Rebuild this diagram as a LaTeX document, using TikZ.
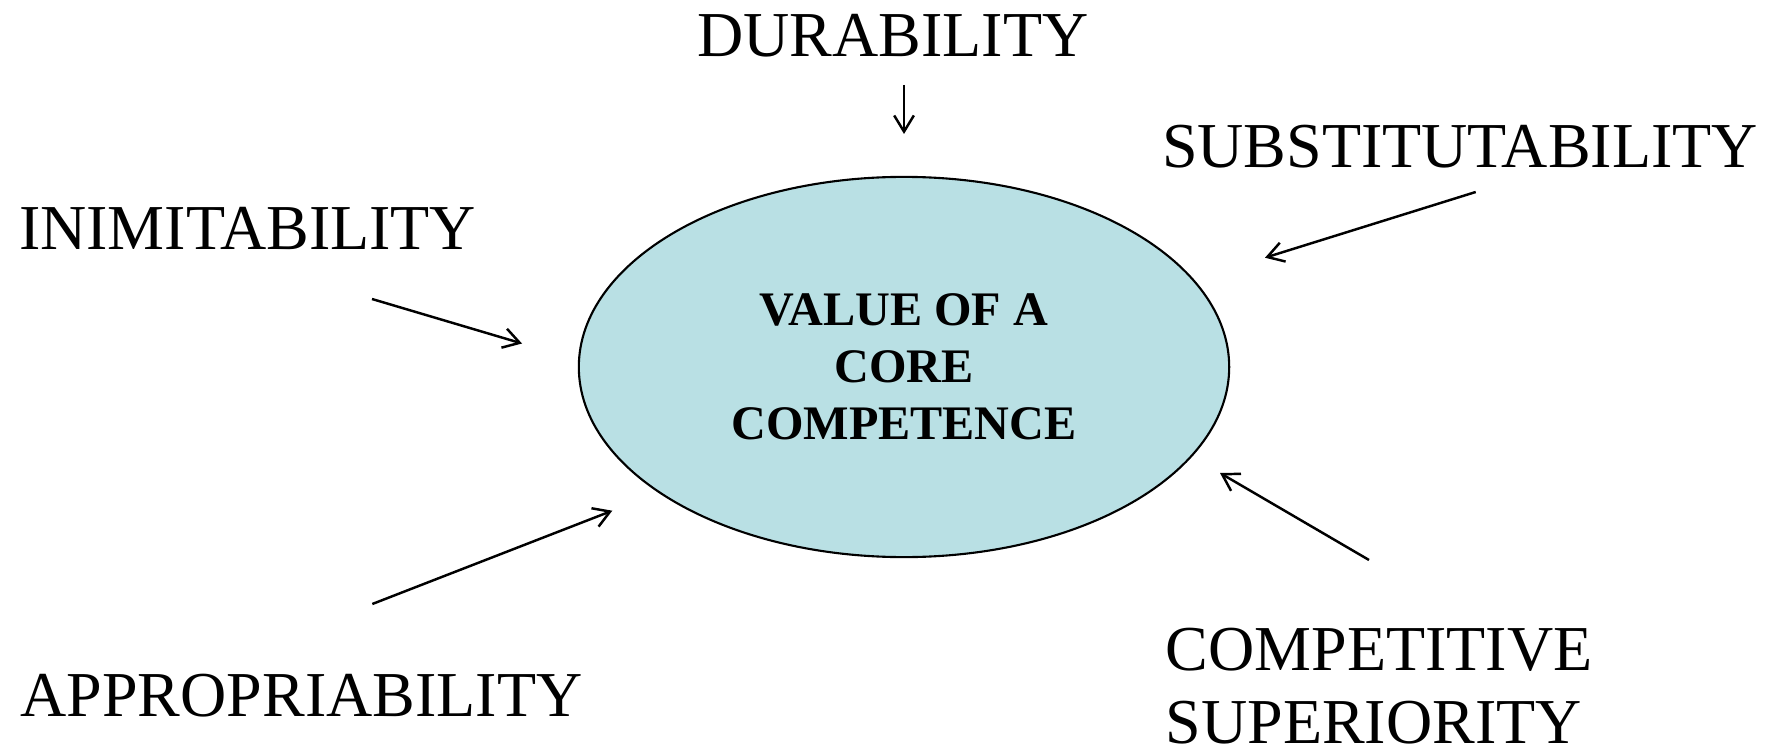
\documentclass[tikz,border=0pt]{standalone}
\usepackage{fontspec}
\setmainfont{Liberation Serif}
\usetikzlibrary{arrows.meta,shapes.geometric}
\definecolor{corefill}{RGB}{185,224,228}
\tikzset{
  factor/.style={inner sep=0pt, anchor=base, font=\fontsize{18.2}{21}\selectfont},
  pointer/.style={-{Straight Barb[length=4.6pt,width=5.6pt]}, line width=0.7pt}
}

\begin{document}
\begin{tikzpicture}[x=0.01cm, y=-0.01cm]
  \useasboundingbox (0,0) rectangle (1777,752);
  \node[ellipse, draw, line width=0.6pt, fill=corefill, minimum width=6.5cm, minimum height=3.8cm,
        align=center, font=\fontsize{13.7}{16.2}\selectfont\bfseries] (core) at (904,367)
        {VALUE OF A\\CORE\\COMPETENCE};
  \node[factor] (dur) at (893,56.7) {DURABILITY};
  \node[factor] (sub) at (1460,167.7) {SUBSTITUTABILITY};
  \node[factor] (inim) at (247.6,249.3) {INIMITABILITY};
  \node[factor] (appr) at (301.5,716) {APPROPRIABILITY};
  \node[factor, anchor=north west, align=left] (comp) at (1165,627) {COMPETITIVE\\SUPERIORITY};
  \coordinate (dur-s) at (904,85);    \coordinate (dur-e) at (904,134);
  \coordinate (sub-s) at (1475.7,192); \coordinate (sub-e) at (1265,257.7);
  \coordinate (inim-s) at (372,299);  \coordinate (inim-e) at (522,343.5);
  \coordinate (appr-s) at (372.3,604); \coordinate (appr-e) at (612.3,510.7);
  \coordinate (comp-s) at (1369,560); \coordinate (comp-e) at (1220,473);
  \draw[pointer] (dur-s) -- (dur-e);
  \draw[pointer] (sub-s) -- (sub-e);
  \draw[pointer] (inim-s) -- (inim-e);
  \draw[pointer] (appr-s) -- (appr-e);
  \draw[pointer] (comp-s) -- (comp-e);
\end{tikzpicture}
\end{document}
